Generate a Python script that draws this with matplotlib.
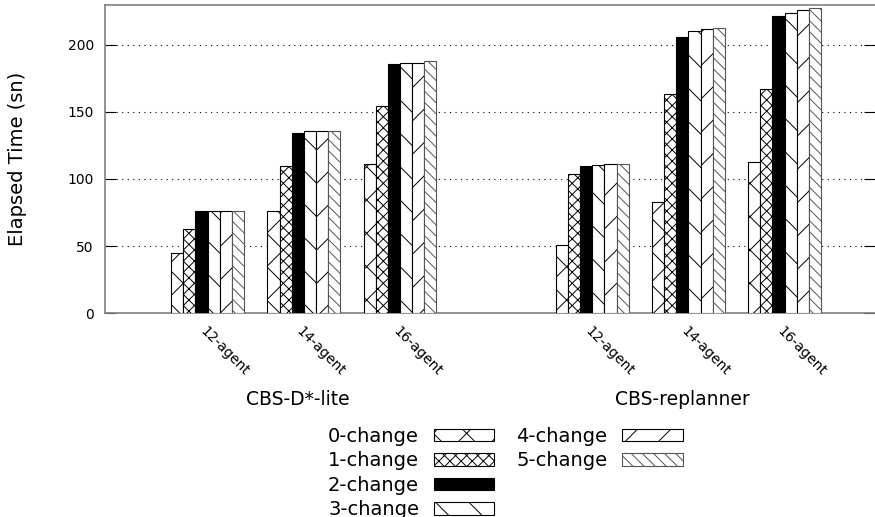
import numpy as np
import matplotlib.pyplot as plt
from matplotlib.patches import Patch

# x categories: 3 agent counts for each planner
planners = ['CBS-D*-lite', 'CBS-replanner']
agents = ['12-agent', '14-agent', '16-agent']
changes = ['0-change', '1-change', '2-change', '3-change', '4-change', '5-change']

# elapsed time (sn), D*-lite 12/14/16 then replanner 12/14/16
change0 = [45, 76, 111, 51, 82.5, 113]
change1 = [62.5, 110, 154.5, 103.5, 163, 167]
change2 = [76, 134.5, 185.5, 109.5, 206, 221.5]
change3 = [76, 135.5, 186.5, 110.5, 210.5, 223.5]
change4 = [76, 135.5, 186.5, 111, 212, 225.5]
change5 = [76, 135.5, 187.5, 111, 212.5, 227]
series = [change0, change1, change2, change3, change4, change5]

hatches = ['x', 'xxx', '', '\\', '/', '\\\\\\']
faces = ['white', 'white', 'black', 'white', 'white', 'white']
edges = ['black', 'black', 'black', 'black', 'black', '#555555']

plt.rcParams['hatch.linewidth'] = 0.7

fig = plt.figure(figsize=(8.75, 5.17), dpi=100)
ax = fig.add_axes([0.12, 0.394, 0.88, 0.5963])

pos = np.array([0, 1, 2, 4, 5, 6])
w = 0.126
for i, vals in enumerate(series):
    ax.bar(pos + (i - 2.5) * w, vals, w, color=faces[i], edgecolor=edges[i],
           hatch=hatches[i], linewidth=0.8, zorder=3)

ax.set_xlim(-1.067, 6.94)
ax.set_ylim(0, 229.5)
ax.set_yticks([0, 50, 100, 150, 200])
ax.set_xticks(pos)
ax.set_xticklabels(agents * 2, rotation=-45, ha='left', va='top',
                   rotation_mode='anchor', fontsize=10)
ax.tick_params(axis='x', length=0, pad=8)
ax.tick_params(axis='y', direction='in', length=8, width=0.8, right=True,
               labelsize=10, pad=8)
ax.yaxis.grid(True, color='black', linestyle=(0, (1, 4)), linewidth=0.8, zorder=0)
ax.set_axisbelow(True)

for s in ['left', 'top', 'bottom']:
    ax.spines[s].set_color('#808080')
    ax.spines[s].set_linewidth(1.2)
ax.spines['right'].set_visible(False)

ax.set_ylabel('Elapsed Time (sn)', fontsize=14, labelpad=29)

for x, name in zip([1, 5], planners):
    ax.text(x - 0.065, -0.281, name, transform=ax.get_xaxis_transform(),
            ha='center', va='center', fontsize=13.5)

handles = [Patch(facecolor=faces[i], edgecolor=edges[i], hatch=hatches[i],
                 linewidth=0.8) for i in range(6)]
blank = Patch(facecolor='none', edgecolor='none')
fig.legend(handles + [blank, blank], changes + ['', ''], ncol=2,
           loc='upper left', bbox_to_anchor=(328 / 875, 1 - 427 / 517),
           frameon=False, markerfirst=False, fontsize=14, borderpad=0,
           borderaxespad=0, handlelength=3.1, handleheight=0.6,
           handletextpad=0.77, columnspacing=1.13, labelspacing=0.28)

fig.savefig('out.png', dpi=100)
